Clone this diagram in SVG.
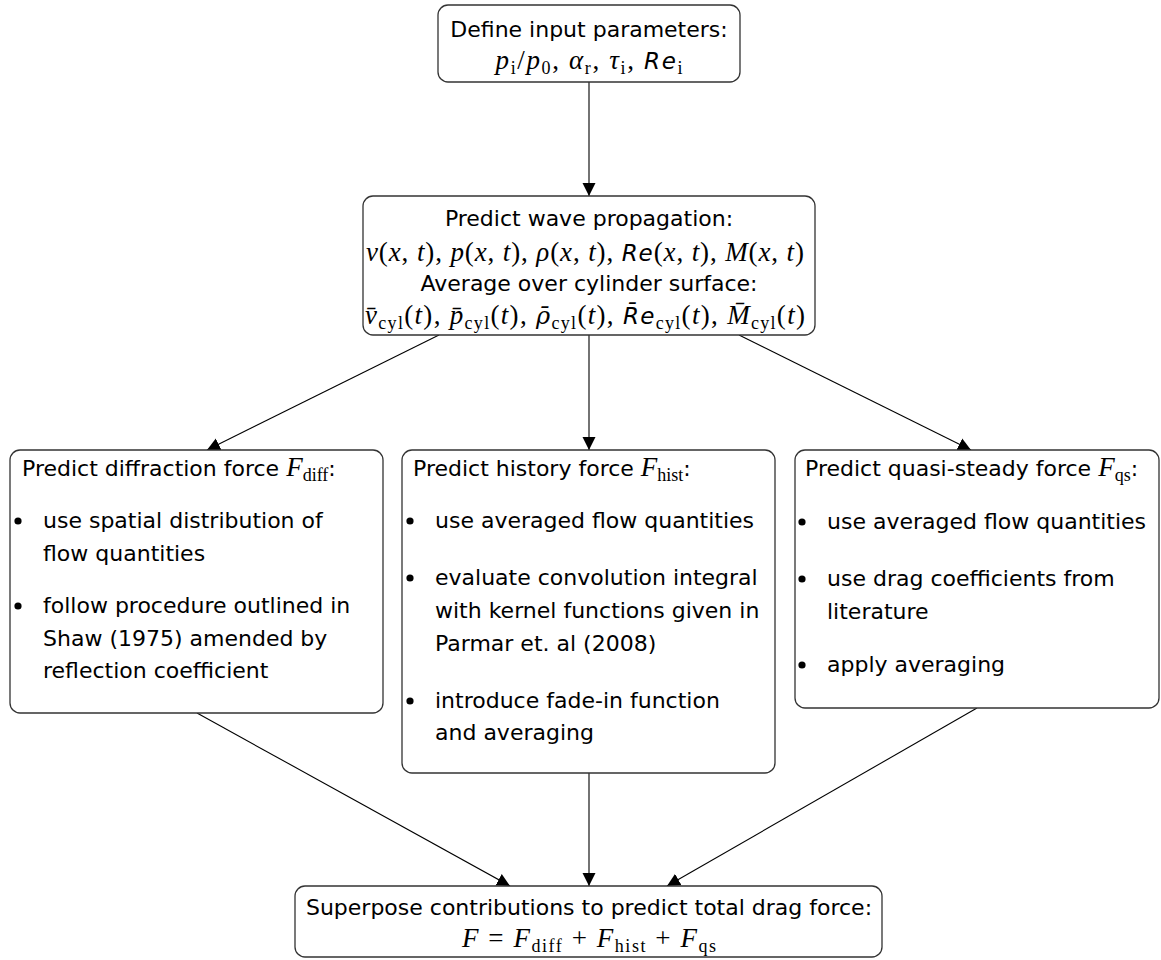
<svg xmlns="http://www.w3.org/2000/svg" width="1161" height="960" viewBox="0 0 1161 960">
<style>
.box{fill:#fff;stroke:#333;stroke-width:1.3}
.t{font-family:"DejaVu Sans",sans-serif;font-size:22px;fill:#000}
.c{text-anchor:middle}
.m{font-family:"Liberation Serif",serif;font-size:27px;fill:#000}
.i{font-style:italic}
.s{font-size:18px}
.re{font-family:"DejaVu Sans",sans-serif;font-style:oblique;font-size:23px}
.rho{font-family:"DejaVu Serif",serif;font-style:italic;font-size:24px}
.edge{stroke:#000;stroke-width:1.1;fill:none;marker-end:url(#ah)}
</style>
<defs>
<marker id="ah" markerUnits="userSpaceOnUse" markerWidth="13" markerHeight="14" viewBox="0 0 13 14" refX="13" refY="7" orient="auto">
<path d="M0,0.5 L13,7 L0,13.5 Z" fill="#000"/>
</marker>
</defs>
<rect width="1161" height="960" fill="#fff"/>
<g id="connectors">
<line class="edge" x1="589" y1="82" x2="589" y2="196"/>
<line class="edge" x1="439" y1="335" x2="207" y2="450"/>
<line class="edge" x1="589" y1="335" x2="589" y2="450"/>
<line class="edge" x1="739" y1="335" x2="971" y2="450"/>
<line class="edge" x1="197" y1="713" x2="510" y2="886"/>
<line class="edge" x1="589" y1="773" x2="589" y2="886"/>
<line class="edge" x1="977" y1="708" x2="667" y2="886"/>
</g>
<g id="input">
<rect class="box" x="438" y="5" width="302" height="77" rx="10"/>
<text class="t c" x="589" y="37">Define input parameters:</text>
<text class="m c" x="589" y="69" textLength="187" lengthAdjust="spacing"><tspan class="i">p</tspan><tspan class="s" dy="5">i</tspan><tspan dy="-5">/</tspan><tspan class="i">p</tspan><tspan class="s" dy="5">0</tspan><tspan dy="-5">, </tspan><tspan class="i">α</tspan><tspan class="s" dy="5">r</tspan><tspan dy="-5">, </tspan><tspan class="i">τ</tspan><tspan class="s" dy="5">i</tspan><tspan dy="-5">, </tspan><tspan class="re">Re</tspan><tspan class="s" dy="5">i</tspan></text>
</g>
<g id="wave">
<rect class="box" x="363" y="196" width="452" height="139" rx="10"/>
<text class="t c" x="589" y="226">Predict wave propagation:</text>
<text class="m c" x="585" y="261" textLength="438" lengthAdjust="spacing"><tspan class="i">v</tspan>(<tspan class="i">x</tspan>, <tspan class="i">t</tspan>), <tspan class="i">p</tspan>(<tspan class="i">x</tspan>, <tspan class="i">t</tspan>), <tspan class="i">ρ</tspan>(<tspan class="i">x</tspan>, <tspan class="i">t</tspan>), <tspan class="re">Re</tspan>(<tspan class="i">x</tspan>, <tspan class="i">t</tspan>), <tspan class="i">M</tspan>(<tspan class="i">x</tspan>, <tspan class="i">t</tspan>)</text>
<text class="t c" x="589" y="291">Average over cylinder surface:</text>
<text class="m c" x="585" y="324" textLength="440" lengthAdjust="spacing"><tspan class="i">v̄</tspan><tspan class="s" dy="5">cyl</tspan><tspan dy="-5">(</tspan><tspan class="i">t</tspan>), <tspan class="i">p̄</tspan><tspan class="s" dy="5">cyl</tspan><tspan dy="-5">(</tspan><tspan class="i">t</tspan>), <tspan class="rho">ρ̄</tspan><tspan class="s" dy="5">cyl</tspan><tspan dy="-5">(</tspan><tspan class="i">t</tspan>), <tspan class="re">R̄e</tspan><tspan class="s" dy="5">cyl</tspan><tspan dy="-5">(</tspan><tspan class="i">t</tspan>), <tspan class="i">M̄</tspan><tspan class="s" dy="5">cyl</tspan><tspan dy="-5">(</tspan><tspan class="i">t</tspan>)</text>
</g>
<g id="diffraction">
<rect class="box" x="10" y="450" width="373" height="263" rx="10"/>
<text class="t" x="22" y="476">Predict diffraction force <tspan class="m i">F</tspan><tspan class="m s" dy="5">diff</tspan><tspan dy="-5">:</tspan></text>
<circle cx="18" cy="521" r="3.6"/>
<text class="t" x="43" y="528">use spatial distribution of</text>
<text class="t" x="43" y="561">flow quantities</text>
<circle cx="18" cy="606" r="3.6"/>
<text class="t" x="43" y="613">follow procedure outlined in</text>
<text class="t" x="43" y="646">Shaw (1975) amended by</text>
<text class="t" x="43" y="678">reflection coefficient</text>
</g>
<g id="history">
<rect class="box" x="402" y="450" width="373" height="323" rx="10"/>
<text class="t" x="413" y="476">Predict history force <tspan class="m i">F</tspan><tspan class="m s" dy="5">hist</tspan><tspan dy="-5">:</tspan></text>
<circle cx="410" cy="521" r="3.6"/>
<text class="t" x="435" y="528">use averaged flow quantities</text>
<circle cx="410" cy="578" r="3.6"/>
<text class="t" x="435" y="585">evaluate convolution integral</text>
<text class="t" x="435" y="618">with kernel functions given in</text>
<text class="t" x="435" y="651">Parmar et. al (2008)</text>
<circle cx="410" cy="701" r="3.6"/>
<text class="t" x="435" y="708">introduce fade-in function</text>
<text class="t" x="435" y="740">and averaging</text>
</g>
<g id="quasisteady">
<rect class="box" x="795" y="450" width="364" height="258" rx="10"/>
<text class="t" x="805" y="476">Predict quasi-steady force <tspan class="m i">F</tspan><tspan class="m s" dy="5">qs</tspan><tspan dy="-5">:</tspan></text>
<circle cx="802" cy="522" r="3.6"/>
<text class="t" x="827" y="529">use averaged flow quantities</text>
<circle cx="802" cy="579" r="3.6"/>
<text class="t" x="827" y="586">use drag coefficients from</text>
<text class="t" x="827" y="619">literature</text>
<circle cx="802" cy="665" r="3.6"/>
<text class="t" x="827" y="672">apply averaging</text>
</g>
<g id="total">
<rect class="box" x="295" y="886" width="587" height="71" rx="10"/>
<text class="t c" x="589" y="915">Superpose contributions to predict total drag force:</text>
<text class="m c" x="589" y="947" textLength="254" lengthAdjust="spacing"><tspan class="i">F</tspan> = <tspan class="i">F</tspan><tspan class="s" dy="5">diff</tspan><tspan dy="-5">  +  </tspan><tspan class="i">F</tspan><tspan class="s" dy="5">hist</tspan><tspan dy="-5">  +  </tspan><tspan class="i">F</tspan><tspan class="s" dy="5">qs</tspan></text>
</g>
</svg>
